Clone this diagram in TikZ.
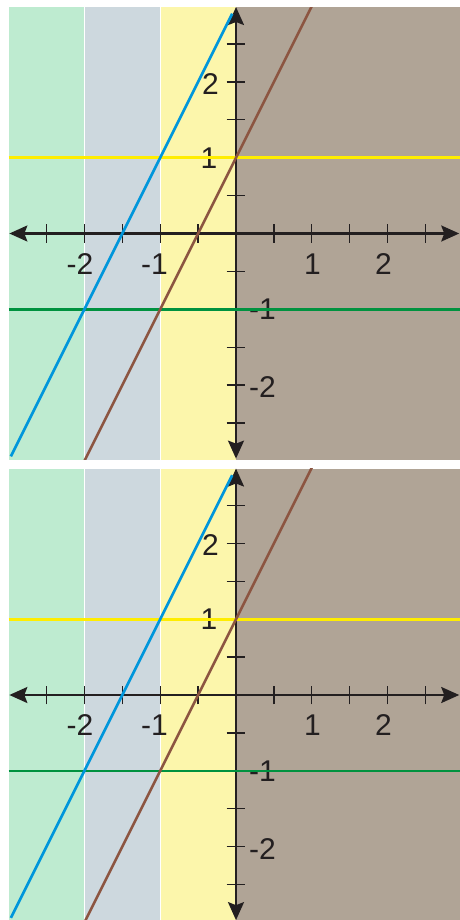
\documentclass[tikz,border=0pt]{standalone}
\usepackage{fontspec}
\setmainfont{Liberation Sans}
\usetikzlibrary{arrows.meta}
\definecolor{regA}{HTML}{BEEBD0}
\definecolor{regB}{HTML}{CDD8DE}
\definecolor{regC}{HTML}{FCF6AB}
\definecolor{regD}{HTML}{B0A496}
\definecolor{axisc}{HTML}{231F20}
\definecolor{blueline}{HTML}{0096DB}
\definecolor{brownline}{HTML}{8C5541}
\definecolor{yellowline}{HTML}{FFED00}
\definecolor{greenline}{HTML}{00923F}
\tikzset{
  axisline/.style={draw=axisc, line width=2.2pt,
    {Stealth[length=18pt,width=16pt,inset=3pt]}-{Stealth[length=18pt,width=16pt,inset=3pt]}},
  tickmark/.style={draw=axisc, line width=1.3pt},
  lbl/.style={font=\fontsize{30}{36}\selectfont, text=axisc, anchor=base, inner sep=0pt},
  graphline/.style={line width=2.6pt},
  sepline/.style={draw=white, line width=1.2pt},
}
\begin{document}
\begin{tikzpicture}
\useasboundingbox (0,0) rectangle (459pt,-920pt);
\foreach \oy [count=\i] in {-233.5pt,-695pt} {
  \begin{scope}[shift={(236pt,\oy)}, x=75.8pt, y=75.8pt]
    % regions
    \fill[regA] (-3.0,-2.988) rectangle (-2,2.988);
    \fill[regB] (-2,-2.988) rectangle (-1,2.988);
    \fill[regC] (-1,-2.988) rectangle (0,2.988);
    \fill[regD] (0,-2.988) rectangle (3.0,2.988);
    \draw[sepline] (-2,-2.988) -- (-2,2.988);
    \draw[sepline] (-1,-2.988) -- (-1,2.988);
    % axes
    \coordinate (L\i) at (-2.99,0);
    \coordinate (R\i) at (2.945,0);
    \coordinate (T\i) at (0,2.988);
    \coordinate (B\i) at (0,-2.97);
    \draw[axisline] (L\i) -- (R\i);
    \draw[axisline] (B\i) -- (T\i);
    \foreach \t in {-2.5,-2,-1.5,-1,-0.5,0.5,1,1.5,2,2.5} {
      \draw[tickmark] (\t,-0.125) -- (\t,0.125);
      \draw[tickmark] (-0.125,\t) -- (0.125,\t);
    }
    % labels
    \node[lbl] (xa\i) at (-2.058,-0.535) {-2};
    \node[lbl] (xb\i) at (-1.075,-0.535) {-1};
    \node[lbl] (xc\i) at (1.009,-0.535) {1};
    \node[lbl] (xd\i) at (1.946,-0.535) {2};
    \node[lbl] (ya\i) at (-0.336,1.84) {2};
    \node[lbl] (yb\i) at (-0.356,0.864) {1};
    \node[lbl] (yc\i) at (0.35,-1.141) {-1};
    \node[lbl] (yd\i) at (0.35,-2.17) {-2};
    % graphs
    \begin{scope}
      \clip (-3.0,-2.988) rectangle (3.0,2.988);
      \coordinate (ys\i) at (-3.0,1);
      \coordinate (ye\i) at (3.0,1);
      \coordinate (gs\i) at (-3.0,-1);
      \coordinate (ge\i) at (3.0,-1);
      \coordinate (bs\i) at (-2.97,-2.94);
      \coordinate (be\i) at (-0.05,2.9);
      \coordinate (rs\i) at (-2,-3);
      \coordinate (re\i) at (1,3);
      \draw[graphline, yellowline] (ys\i) -- (ye\i);
      \draw[graphline, greenline] (gs\i) -- (ge\i);
      \draw[graphline, blueline] (bs\i) -- (be\i);
      \draw[graphline, brownline] (rs\i) -- (re\i);
    \end{scope}
  \end{scope}
}
\end{tikzpicture}
\end{document}
